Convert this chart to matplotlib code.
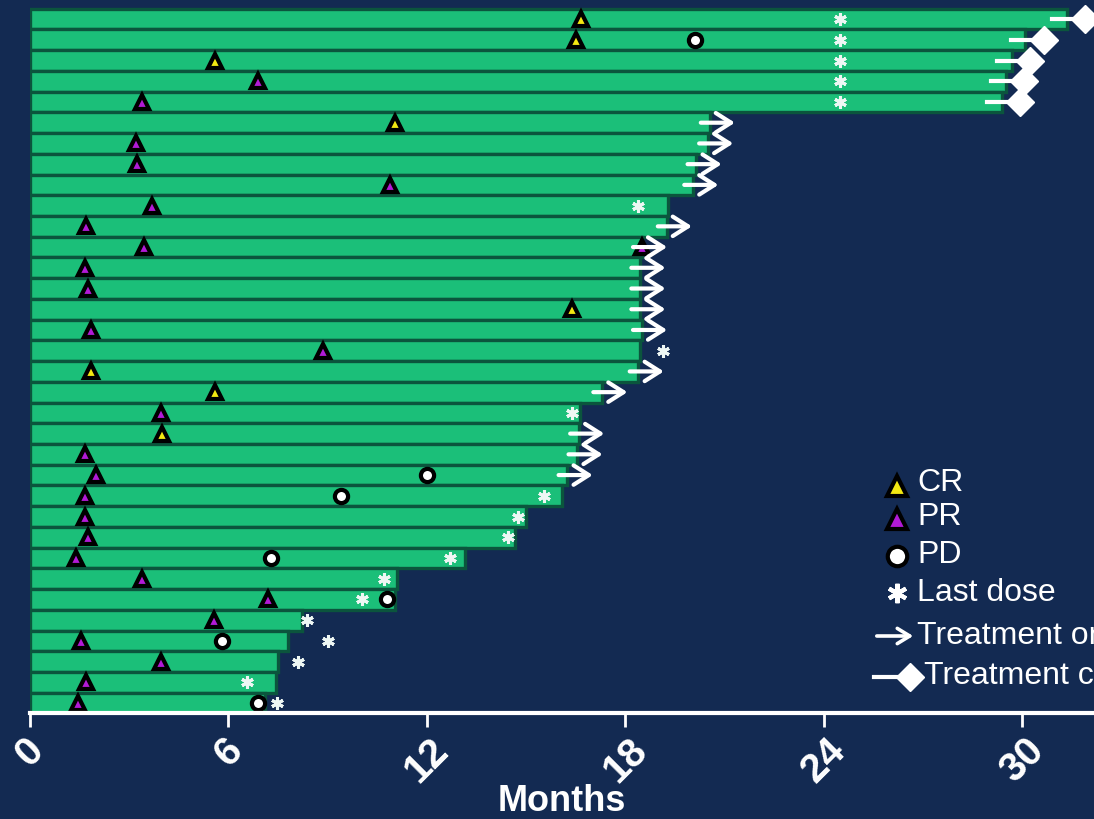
import numpy as np
import matplotlib
matplotlib.use("Agg")
import matplotlib.pyplot as plt
from matplotlib.lines import Line2D

# months on study, one entry per patient (top row first)
duration = [31.35, 30.1, 29.7, 29.5, 29.4, 20.55, 20.5, 20.15, 20.05, 19.3,
            19.25, 18.5, 18.45, 18.45, 18.45, 18.5, 18.45, 18.4, 17.3, 16.63,
            16.6, 16.55, 16.25, 16.09, 15.0, 14.67, 13.15, 11.1, 11.04, 8.22,
            7.8, 7.5, 7.44, 7.1]

# rows still on treatment (arrow) and rows that completed treatment (diamond)
ongoing_rows = [5, 6, 7, 8, 10, 11, 12, 13, 14, 15, 17, 18, 20, 21, 22]
completed_rows = [0, 1, 2, 3, 4]

# response time points: (row, month)
cr_rows = [0, 1, 2, 5, 14, 17, 18, 20]
cr_month = [16.65, 16.5, 5.6, 11.05, 16.4, 1.85, 5.6, 4.0]
pr_rows = [3, 4, 6, 7, 8, 9, 10, 11, 11, 12, 13, 15, 16, 19, 21, 22, 23, 24,
           25, 26, 27, 28, 29, 30, 31, 32, 33]
pr_month = [6.9, 3.4, 3.2, 3.25, 10.9, 3.7, 1.7, 3.45, 18.5, 1.65, 1.75, 1.85,
            8.85, 3.95, 1.65, 2.0, 1.65, 1.65, 1.75, 1.4, 3.4, 7.2, 5.55, 1.55,
            3.95, 1.7, 1.45]
pd_rows = [1, 22, 23, 26, 28, 30, 33]
pd_month = [20.1, 12.0, 9.4, 7.3, 10.8, 5.8, 6.9]

# last dose
dose_rows = [0, 1, 2, 3, 4, 9, 16, 19, 23, 24, 25, 26, 27, 28, 29, 30, 31, 32, 33]
dose_month = [24.5, 24.5, 24.5, 24.5, 24.5, 18.4, 19.15, 16.39, 15.54, 14.76,
              14.45, 12.7, 10.7, 10.04, 8.38, 9.0, 8.1, 6.56, 7.47]

xticks = [0, 6, 12, 18, 24, 30]

navy = "#132a52"
green = "#1bbf79"
dark_green = "#0b553d"
cr_color = "#f3e812"
pr_color = "#b21ad6"

W, H = 1094, 819
fig = plt.figure(figsize=(W / 100, H / 100), dpi=100, facecolor=navy)
ax = fig.add_axes([30 / W, 1 - 713 / H, 1064 / W, 713 / H])
ax.set_facecolor(navy)

rows = np.arange(len(duration))
ax.barh(rows, duration, height=1.0, color=green, edgecolor=dark_green,
        linewidth=2.4, zorder=1)

arrow_style = "->,head_length=1.1,head_width=0.7"

# ongoing treatment arrows
for r in ongoing_rows:
    ax.annotate("", xy=(duration[r] + 0.85, r), xytext=(duration[r] - 0.35, r),
                arrowprops=dict(arrowstyle=arrow_style, color="white", lw=3),
                zorder=5)

# completed treatment: short line ending in a diamond
for r in completed_rows:
    ax.plot([duration[r] - 0.45, duration[r] + 0.55], [r, r], color="white",
            lw=3, zorder=5, clip_on=False)
    ax.plot(duration[r] + 0.55, r, marker="D", ms=14, color="white",
            mec="white", zorder=6, clip_on=False)

ax.plot(dose_month, dose_rows, ls="none", marker=(6, 2, 0), ms=9,
        mew=2.2, color="#eef7f4", zorder=4)
ax.plot(pd_month, pd_rows, ls="none", marker="o", ms=9.5, mfc="white",
        mec="black", mew=3, zorder=4)
ax.plot(pr_month, pr_rows, ls="none", marker="^", ms=10, mfc=pr_color,
        mec="black", mew=3, zorder=4)
ax.plot(cr_month, cr_rows, ls="none", marker="^", ms=10, mfc=cr_color,
        mec="black", mew=3, zorder=4)

ax.set_xlim(0, 1064 / 33.07)
ax.set_ylim(33.48, -0.92)

for s in ["top", "right", "left"]:
    ax.spines[s].set_visible(False)
ax.spines["bottom"].set_color("white")
ax.spines["bottom"].set_linewidth(3)
ax.spines["bottom"].set_zorder(7)
ax.set_yticks([])
ax.set_xticks(xticks)
ax.set_xticklabels([str(t) for t in xticks], rotation=45, ha="center",
                   va="top", fontsize=29, fontweight="bold", color="white",
                   family="Liberation Sans")
ax.tick_params(axis="x", colors="white", length=10, width=2, pad=3)
ax.set_xlabel("Months", fontsize=26, fontweight="bold", color="white",
              family="Liberation Sans", labelpad=-4)


# legend drawn in figure pixels
def fx(px):
    return px / W


def fy(py):
    return 1 - py / H


legend_font = dict(fontsize=23, color="white", family="Liberation Sans",
                   va="center", ha="left")
ax.add_line(Line2D([fx(897)], [fy(486)], transform=fig.transFigure, marker="^",
                   ms=15, mfc=cr_color, mec="black", mew=3, clip_on=False))
fig.text(fx(917), fy(483), "CR", **legend_font)
ax.add_line(Line2D([fx(897)], [fy(519)], transform=fig.transFigure, marker="^",
                   ms=15, mfc=pr_color, mec="black", mew=3, clip_on=False))
fig.text(fx(917), fy(517), "PR", **legend_font)
ax.add_line(Line2D([fx(897)], [fy(556)], transform=fig.transFigure, marker="o",
                   ms=14, mfc="white", mec="black", mew=3, clip_on=False))
fig.text(fx(917), fy(555), "PD", **legend_font)
ax.add_line(Line2D([fx(897)], [fy(593)], transform=fig.transFigure,
                   marker=(6, 2, 0), ms=14, mew=3, color="white", clip_on=False))
fig.text(fx(917), fy(593), "Last dose", **legend_font)
ax.annotate("", xy=(fx(916), fy(636)), xytext=(fx(874), fy(636)),
            xycoords="figure fraction", textcoords="figure fraction",
            arrowprops=dict(arrowstyle="->,head_length=0.9,head_width=0.55",
                            color="white", lw=2.6))
fig.text(fx(917), fy(636), "Treatment ongoing", **legend_font)
ax.add_line(Line2D([fx(874), fx(910)], [fy(677), fy(677)],
                   transform=fig.transFigure, color="white", lw=3, clip_on=False))
ax.add_line(Line2D([fx(910)], [fy(677)], transform=fig.transFigure, marker="D",
                   ms=14, color="white", clip_on=False))
fig.text(fx(924), fy(676), "Treatment completed", **legend_font)

fig.savefig("out.png", dpi=100, facecolor=navy)
